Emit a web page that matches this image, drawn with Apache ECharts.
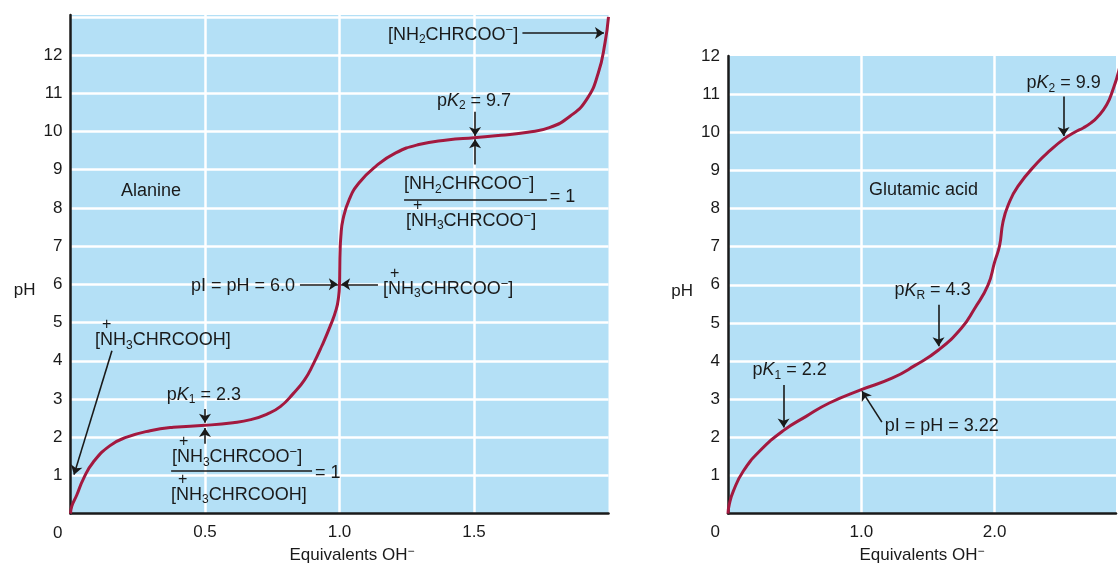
<!DOCTYPE html>
<html>
<head>
<meta charset="utf-8">
<title>Titration curves of alanine and glutamic acid</title>
<script src="https://cdn.jsdelivr.net/npm/echarts@6/dist/echarts.min.js"></script>
<style>
  html, body { margin: 0; padding: 0; background: #fff; }
  #chart { width: 1119px; height: 569px; }
</style>
</head>
<body>
<div id="chart"></div>
<script>
// alanine titration: equivalents of OH- added vs pH
const alanineEq = [0, 0.005, 0.023, 0.048, 0.085, 0.147, 0.209, 0.296, 0.382, 0.5, 0.604, 0.67, 0.729, 0.78, 0.828, 0.87, 0.903, 0.935, 0.965, 0.988, 0.997, 1.0, 1.001, 1.002, 1.005, 1.013, 1.036, 1.073, 1.135, 1.209, 1.295, 1.4, 1.5, 1.6, 1.7, 1.78, 1.857, 1.919, 1.962, 1.987, 2.0];
const alaninePH = [0, 0.2, 0.48, 0.91, 1.35, 1.78, 2.0, 2.17, 2.26, 2.31, 2.38, 2.46, 2.6, 2.8, 3.14, 3.5, 3.92, 4.4, 4.9, 5.35, 5.7, 6.0, 6.4, 6.8, 7.25, 7.7, 8.22, 8.66, 9.09, 9.44, 9.66, 9.78, 9.84, 9.9, 9.98, 10.1, 10.4, 10.84, 11.53, 12.32, 13.0];

// glutamic acid titration
const glutamicEq = [0, 0.01, 0.04, 0.114, 0.238, 0.412, 0.586, 0.76, 1.0, 1.23, 1.4, 1.579, 1.75, 1.85, 1.95, 2.0, 2.037, 2.062, 2.1, 2.174, 2.32, 2.418, 2.518, 2.6, 2.667, 2.72, 2.766, 2.84, 2.89, 2.93, 2.96];
const glutamicPH = [0, 0.25, 0.59, 1.11, 1.64, 2.17, 2.55, 2.9, 3.25, 3.55, 3.88, 4.29, 4.86, 5.38, 5.99, 6.6, 7.03, 7.64, 8.08, 8.58, 9.2, 9.53, 9.82, 10.0, 10.12, 10.24, 10.38, 10.72, 11.15, 11.6, 12.1];

// tick labels
const alanineTicks = [0.5, 1.0, 1.5];
const glutamicTicks = [1.0, 2.0];
const phTicks = [1, 2, 3, 4, 5, 6, 7, 8, 9, 10, 11, 12];

// annotations: [eq, pH, text, align]
const alanineNotes = [
    [0.188, 8.43, '{t|Alanine}', 'left'],
    [0.835, 5.95, '{t|pI = pH = 6.0}', 'right'],
    [1.162, 6.0, '{pl|+}\n{t|[NH}{sub|3}{t|CHRCOO}{sup|−}{t|]}', 'left'],
    [1.180, 12.53, '{t|[NH}{sub|2}{t|CHRCOO}{sup|−}{t|]}', 'left'],
    [1.5, 10.81, '{t|p}{it|K}{sub|2}{t| = 9.7}', 'center'],
    [1.24, 8.62, '{t|[NH}{sub|2}{t|CHRCOO}{sup|−}{t|]}', 'left'],
    [1.782, 8.28, '{t|= 1}', 'left'],
    [1.247, 7.78, '{pl|+}\n{t|[NH}{sub|3}{t|CHRCOO}{sup|−}{t|]}', 'left'],
    [0.091, 4.65, '{pl|+}\n{t|[NH}{sub|3}{t|CHRCOOH]}', 'left'],
    [0.496, 3.11, '{t|p}{it|K}{sub|1}{t| = 2.3}', 'center'],
    [0.377, 1.59, '{pl|+}\n{t|[NH}{sub|3}{t|CHRCOO}{sup|−}{t|]}', 'left'],
    [0.909, 1.07, '{t|= 1}', 'left'],
    [0.374, 0.60, '{pl|+}\n{t|[NH}{sub|3}{t|CHRCOOH]}', 'left']
];
// arrows: [eq1, pH1, eq2, pH2], head at the second point
const alanineArrows = [
    [0.853, 6.0, 0.994, 6.0],
    [1.143, 6.0, 1.006, 6.0],
    [1.68, 12.58, 1.983, 12.58],
    [1.504, 10.52, 1.504, 9.88],
    [1.504, 9.14, 1.504, 9.80],
    [0.154, 4.26, 0.013, 1.02],
    [0.5, 2.74, 0.5, 2.38],
    [0.5, 1.83, 0.5, 2.24]
];
// fraction bars
const alanineBars = [
    [1.24, 8.22, 1.771, 8.22],
    [0.374, 1.12, 0.898, 1.12]
];

const glutamicNotes = [
    [1.057, 8.49, '{t|Glutamic acid}', 'left'],
    [2.517, 11.28, '{t|p}{it|K}{sub|2}{t| = 9.9}', 'center'],
    [1.534, 5.85, '{t|p}{it|K}{sub|R}{t| = 4.3}', 'center'],
    [0.462, 3.76, '{t|p}{it|K}{sub|1}{t| = 2.2}', 'center'],
    [1.176, 2.30, '{t|pI = pH = 3.22}', 'left']
];
const glutamicArrows = [
    [2.517, 10.94, 2.517, 9.9],
    [1.579, 5.48, 1.579, 4.39],
    [0.417, 3.37, 0.417, 2.26],
    [1.154, 2.40, 1.005, 3.21]
];

const FONT = '"Liberation Sans", Arial, Helvetica, sans-serif';
const INK = '#1a1a1a';
const CURVE = '#a3193f';
const PLOT_BG = '#b4e0f6';

const richText = {
    t: { fontSize: 18, lineHeight: 22, color: INK, fontFamily: FONT },
    it: { fontSize: 18, lineHeight: 22, color: INK, fontFamily: FONT, fontStyle: 'italic' },
    sub: { fontSize: 12, lineHeight: 22, color: INK, fontFamily: FONT, verticalAlign: 'bottom' },
    sup: { fontSize: 13, lineHeight: 22, color: INK, fontFamily: FONT, verticalAlign: 'top' },
    pl: { fontSize: 16, lineHeight: 9, color: INK, fontFamily: FONT, padding: [0, 0, 0, 7] }
};

function toPairs(xs, ys) {
    return xs.map((x, i) => [x, ys[i]]);
}

function notesToMarkPoints(notes) {
    return notes.map(n => ({
        coord: [n[0], n[1]],
        value: 0,
        label: { show: true, formatter: n[2], align: n[3], verticalAlign: 'middle' }
    }));
}

function segmentsToMarkLines(segs, withHead) {
    return segs.map(s => [
        { coord: [s[0], s[1]], symbol: 'none' },
        { coord: [s[2], s[3]], symbol: withHead ? 'arrow' : 'none' }
    ]);
}

function xAxisFor(gridIndex, max, interval, ticks, nameShift) {
    return {
        type: 'value',
        gridIndex: gridIndex,
        min: 0,
        max: max,
        interval: interval,
        axisLine: { show: true, onZero: false, lineStyle: { color: INK, width: 2.5 } },
        axisTick: { show: false },
        axisLabel: {
            margin: 10,
            fontSize: 17,
            color: INK,
            fontFamily: FONT,
            formatter: v => ticks.some(t => Math.abs(t - v) < 1e-6) ? v.toFixed(1) : ''
        },
        splitLine: { show: true, showMinLine: false, showMaxLine: false, lineStyle: { color: '#ffffff', width: 2.5 } },
        name: '{n|Equivalents OH}{s|−}',
        nameLocation: 'middle',
        nameGap: 31,
        nameTextStyle: {
            padding: [0, 0, 0, nameShift],
            rich: {
                n: { fontSize: 17, lineHeight: 20, color: INK, fontFamily: FONT },
                s: { fontSize: 12, lineHeight: 20, color: INK, fontFamily: FONT, verticalAlign: 'top' }
            }
        }
    };
}

function yAxisFor(gridIndex, max, zeroDrop, nameDrop) {
    return {
        type: 'value',
        gridIndex: gridIndex,
        min: 0,
        max: max,
        interval: 1,
        axisLine: { show: true, onZero: false, lineStyle: { color: INK, width: 2.5 } },
        axisTick: { show: false },
        axisLabel: {
            margin: 8,
            fontSize: 17,
            color: INK,
            fontFamily: FONT,
            formatter: v => v === 0 ? '{z|0}' : (phTicks.indexOf(v) >= 0 ? String(v) : ''),
            rich: { z: { fontSize: 17, color: INK, fontFamily: FONT, padding: [zeroDrop, 0, 0, 0] } }
        },
        splitLine: { show: true, showMinLine: false, showMaxLine: false, lineStyle: { color: '#ffffff', width: 2.5 } },
        name: '{p|pH}',
        nameLocation: 'middle',
        nameRotate: 0,
        nameGap: 35,
        nameTextStyle: {
            rich: { p: { fontSize: 17, color: INK, fontFamily: FONT, padding: [nameDrop, 0, 0, 0] } }
        }
    };
}

function curveSeries(idx, data, notes, arrows, bars) {
    return {
        type: 'line',
        xAxisIndex: idx,
        yAxisIndex: idx,
        data: data,
        smooth: 0.5,
        showSymbol: false,
        silent: true,
        lineStyle: { color: CURVE, width: 3 },
        markPoint: {
            silent: true,
            symbol: 'circle',
            symbolSize: 0,
            itemStyle: { color: 'rgba(0,0,0,0)' },
            label: { show: true, rich: richText },
            data: notesToMarkPoints(notes)
        },
        markLine: {
            silent: true,
            symbolSize: 9,
            label: { show: false },
            emphasis: { disabled: true },
            lineStyle: { color: INK, width: 1.6, type: 'solid' },
            data: segmentsToMarkLines(arrows, true).concat(segmentsToMarkLines(bars, false))
        }
    };
}

const chart = echarts.init(document.getElementById('chart'));
chart.setOption({
    animation: false,
    backgroundColor: '#ffffff',
    grid: [
        { left: 70.5, top: 15, width: 538, height: 500, show: true, backgroundColor: PLOT_BG, borderWidth: 0 },
        // the right panel is cut by the picture edge, a little before 3 equivalents
        { left: 728, top: 56, width: 391, height: 460, show: true, backgroundColor: PLOT_BG, borderWidth: 0 }
    ],
    xAxis: [
        xAxisFor(0, 2, 0.5, alanineTicks, 25),
        xAxisFor(1, 2.91, 1, glutamicTicks, 0)
    ],
    yAxis: [
        yAxisFor(0, 13.05, 40, 52),
        yAxisFor(1, 12, 38, 14)
    ],
    series: [
        curveSeries(0, toPairs(alanineEq, alaninePH), alanineNotes, alanineArrows, alanineBars),
        curveSeries(1, toPairs(glutamicEq, glutamicPH), glutamicNotes, glutamicArrows, [])
    ]
});
</script>
</body>
</html>
